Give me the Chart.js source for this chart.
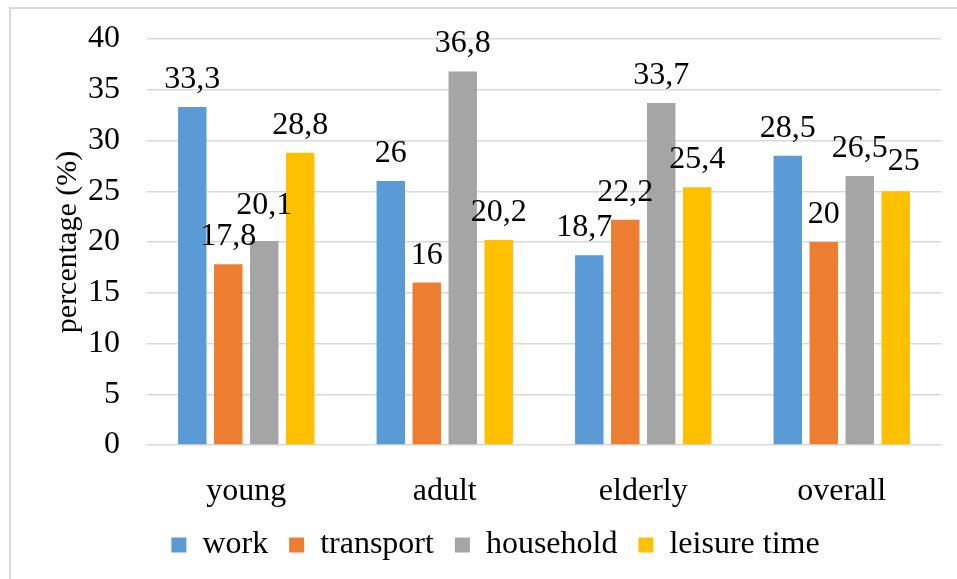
<!DOCTYPE html>
<html>
<head>
<meta charset="utf-8">
<script src="https://cdn.jsdelivr.net/npm/chart.js@4/dist/chart.umd.min.js"></script>
<style>
  html, body { margin: 0; padding: 0; background: #fff; overflow: hidden; }
  #wrap { position: relative; width: 957px; height: 579px; }
  #frame {
    position: absolute; left: 9px; top: 7px; right: -20px; bottom: -20px;
    border: 2px solid #d9d9d9;
  }
  #chart { position: absolute; left: 0; top: 0; }
</style>
</head>
<body>
<div id="wrap">
  <div id="frame"></div>
  <canvas id="chart" width="957" height="579"></canvas>
</div>
<script>
// categorie e serie (%)
const groups = ['young', 'adult', 'elderly', 'overall'];
const work = [33.3, 26, 18.7, 28.5];
const transport = [17.8, 16, 22.2, 20];
const household = [20.1, 36.8, 33.7, 26.5];
const leisure = [28.8, 20.2, 25.4, 25];
const yTicks = [0, 5, 10, 15, 20, 25, 30, 35, 40];

const FONT = "'Liberation Serif', 'Times New Roman', serif";
const COLORS = ['#5B9BD5', '#ED7D31', '#A5A5A5', '#FFC000'];

// spostamenti manuali di alcune etichette (dataset:indice -> [dx, dy])
const labelNudge = { '2:0': [0, -8], '0:2': [-5, 0], '3:3': [8, -2] };

const fmtComma = v => String(v).replace('.', ',');

// etichette valore sopra le barre
const valueLabels = {
  id: 'valueLabels',
  afterDatasetsDraw(chart) {
    const ctx = chart.ctx;
    ctx.save();
    ctx.font = `32px ${FONT}`;
    ctx.fillStyle = '#000';
    ctx.textAlign = 'center';
    ctx.textBaseline = 'alphabetic';
    chart.data.datasets.forEach((ds, di) => {
      chart.getDatasetMeta(di).data.forEach((bar, i) => {
        const [dx, dy] = labelNudge[`${di}:${i}`] || [0, 0];
        ctx.fillText(fmtComma(ds.data[i]), bar.x + dx, bar.y - 19 + dy);
      });
    });
    ctx.restore();
  }
};

// legenda un po' più a destra, centrata sotto l'area del grafico
const legendShift = {
  id: 'legendShift',
  afterLayout(chart) {
    const lg = chart.legend;
    if (!lg) return;
    lg.left += 25;
    lg.right += 25;
  }
};

const series = [
  { label: 'work', data: work },
  { label: 'transport', data: transport },
  { label: 'household', data: household },
  { label: 'leisure time', data: leisure }
];

new Chart(document.getElementById('chart').getContext('2d'), {
  type: 'bar',
  data: {
    labels: groups,
    datasets: series.map((s, i) => ({
      label: s.label,
      data: s.data,
      backgroundColor: COLORS[i],
      borderWidth: 0,
      categoryPercentage: 0.725,
      barPercentage: 0.79
    }))
  },
  options: {
    responsive: false,
    animation: false,
    layout: { padding: { left: 0, right: 16, top: 39, bottom: 8 } },
    plugins: {
      legend: {
        position: 'bottom',
        labels: {
          color: '#000',
          font: { family: FONT, size: 32 },
          boxWidth: 15,
          boxHeight: 15,
          padding: 21
        }
      },
      tooltip: { enabled: false }
    },
    scales: {
      x: {
        grid: { display: false },
        border: { display: false },
        ticks: { color: '#000', font: { family: FONT, size: 32 }, padding: 19 },
        afterFit: s => { s.height = 63; }
      },
      y: {
        min: 0,
        max: 40,
        afterBuildTicks: s => { s.ticks = yTicks.map(v => ({ value: v })); },
        grid: { color: '#d9d9d9', lineWidth: 1.5, drawTicks: false },
        border: { display: false },
        ticks: { color: '#000', font: { family: FONT, size: 32 }, padding: 27 },
        title: {
          display: true,
          text: 'percentage (%)',
          color: '#000',
          font: { family: FONT, size: 30 },
          padding: { top: 50, bottom: 0 }
        },
        afterFit: s => {
          s.width = 147;
          s.paddingTop = 0;
          s.paddingBottom = 0;
        }
      }
    }
  },
  plugins: [valueLabels, legendShift]
});
</script>
</body>
</html>
